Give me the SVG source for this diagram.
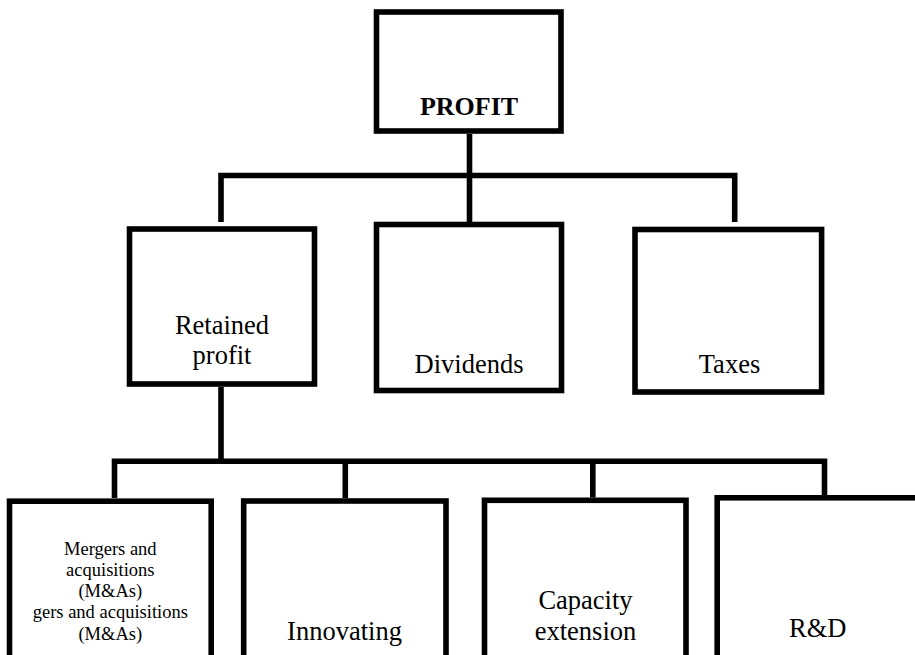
<svg xmlns="http://www.w3.org/2000/svg" width="915" height="655" viewBox="0 0 915 655">
<style>
.box{fill:#fff;stroke:#000;stroke-width:5.6}
.ln{fill:none;stroke:#000;stroke-width:5.6;stroke-linejoin:miter;stroke-linecap:butt}
text{font-family:"Liberation Serif","Times New Roman",serif;fill:#000;text-anchor:middle}
.t{font-size:26.5px}
.s{font-size:18.5px}
.b{font-size:26px;font-weight:bold}
</style>
<rect width="915" height="655" fill="#fff"/>
<g id="connectors">
<path class="ln" d="M469.5,134 V222"/>
<path class="ln" d="M221,222 V175.5 H734.7 V222"/>
<path class="ln" d="M221,387 V461.2"/>
<path class="ln" d="M114.5,498 V461.2 H824.5 V495"/>
<path class="ln" d="M345.3,461.2 V498"/>
<path class="ln" d="M592.8,461.2 V497.5"/>
</g>
<g id="profit">
<rect class="box" x="376.5" y="12" width="184.5" height="119"/>
<text class="b" x="469" y="115">PROFIT</text>
</g>
<g id="retained">
<rect class="box" x="129.5" y="229" width="185" height="155"/>
<text class="t" x="222" y="334">Retained</text>
<text class="t" x="222" y="364">profit</text>
</g>
<g id="dividends">
<rect class="box" x="376.5" y="224.5" width="185" height="166"/>
<text class="t" x="469" y="372.5">Dividends</text>
</g>
<g id="taxes">
<rect class="box" x="635" y="229.5" width="186.6" height="162.5"/>
<text class="t" x="729.5" y="372.5">Taxes</text>
</g>
<g id="mergers">
<rect class="box" x="9.5" y="501.2" width="201.7" height="170"/>
<text class="s" x="110.3" y="555">Mergers and</text>
<text class="s" x="110.3" y="576">acquisitions</text>
<text class="s" x="110.3" y="597">(M&amp;As)</text>
<text class="s" x="110.3" y="618">gers and acquisitions</text>
<text class="s" x="110.3" y="639.5">(M&amp;As)</text>
</g>
<g id="innovating">
<rect class="box" x="243.7" y="501" width="202.3" height="170"/>
<text class="t" x="344.5" y="640">Innovating</text>
</g>
<g id="capacity">
<rect class="box" x="484.5" y="500.3" width="201.5" height="170"/>
<text class="t" x="585.5" y="608.5">Capacity</text>
<text class="t" x="585.5" y="639.5">extension</text>
</g>
<g id="rd">
<rect class="box" x="717.2" y="497.8" width="202" height="170"/>
<text class="t" x="817.8" y="636.7">R&amp;D</text>
</g>
</svg>
